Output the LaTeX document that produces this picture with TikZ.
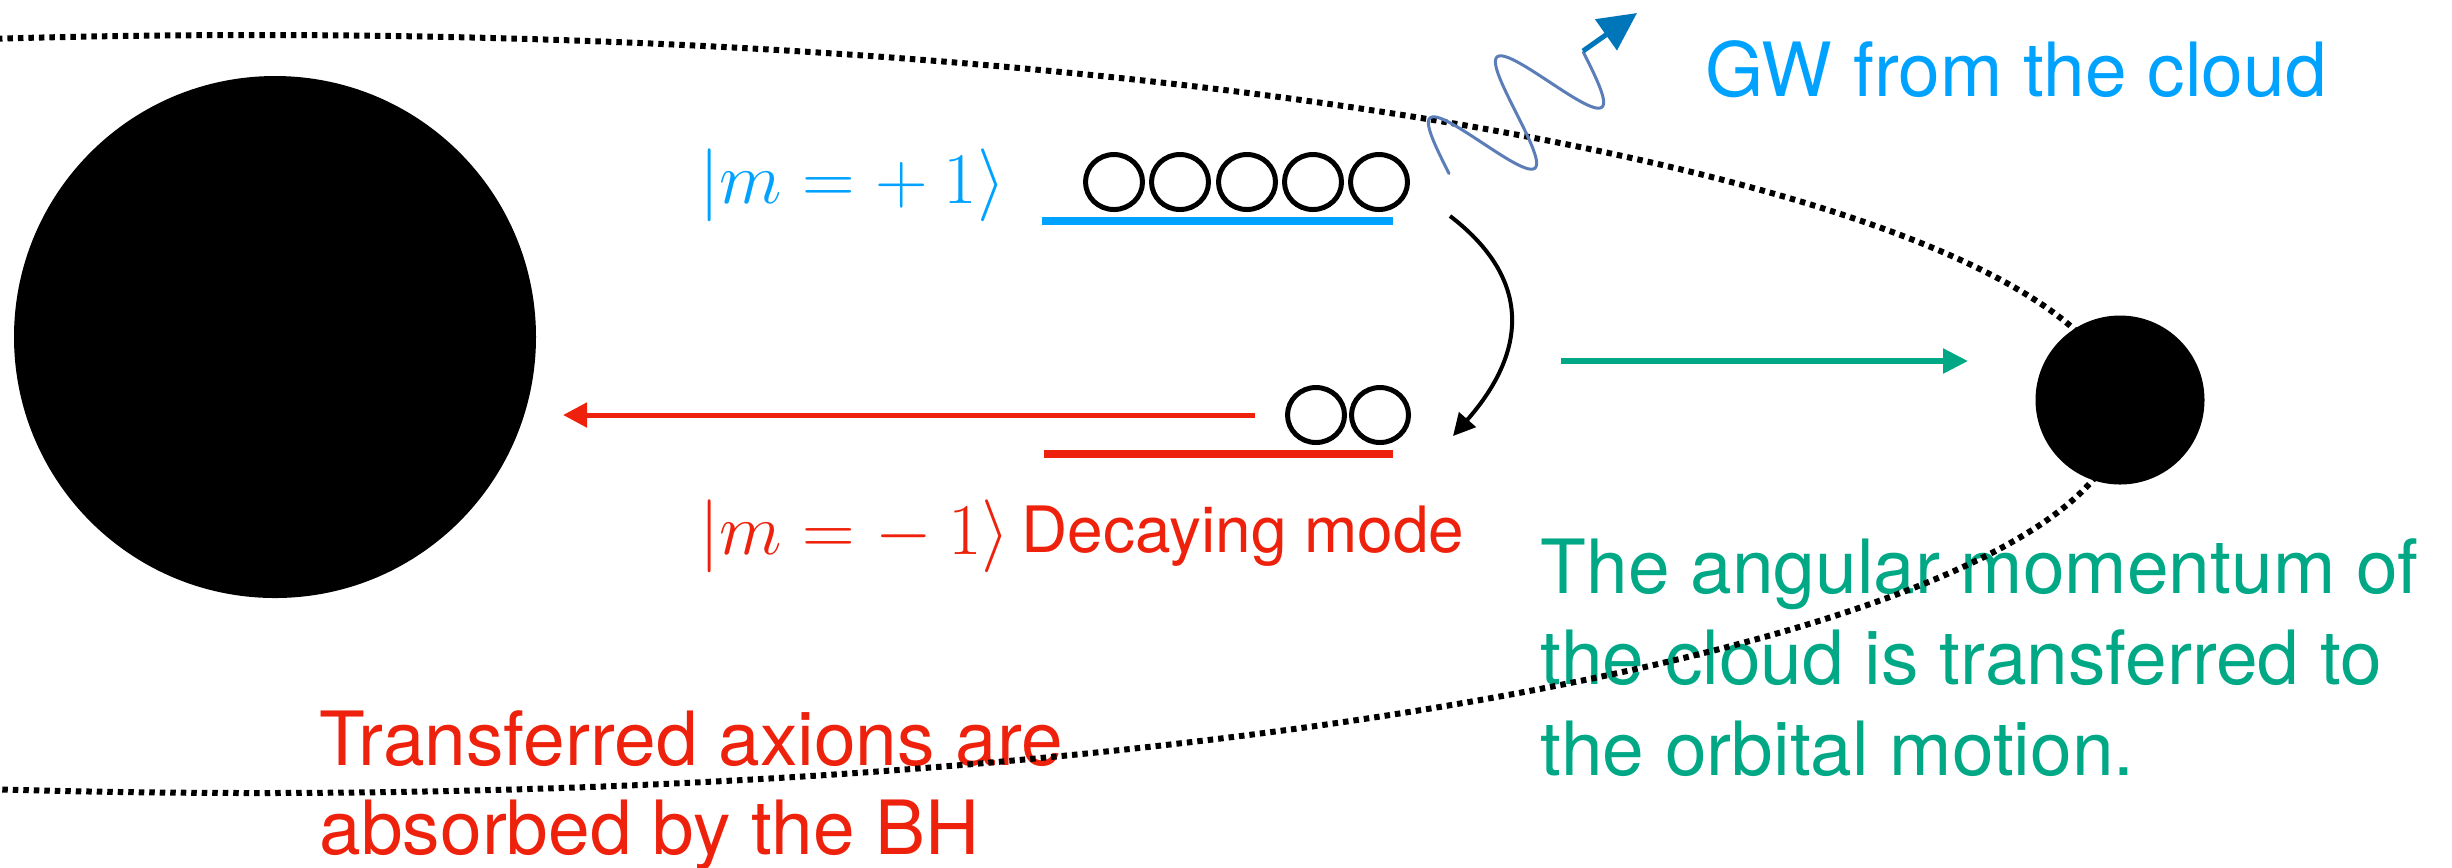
\documentclass[tikz,border=0pt]{standalone}
\usepackage[no-math]{fontspec}
\setmainfont{TeX Gyre Heros}
\usetikzlibrary{arrows.meta,shapes.geometric}
\definecolor{kblue}{HTML}{00A2FF}
\definecolor{kred}{HTML}{EE220C}
\definecolor{kgreen}{HTML}{00A885}
\definecolor{wavecol}{HTML}{5B7DB8}
\definecolor{darkblue}{HTML}{0076BA}
\begin{document}
\begin{tikzpicture}[x=0.1mm,y=-0.1mm,
  bigtxt/.style={inner sep=0pt, anchor=base west, font=\fontsize{21.3}{25.9}\selectfont},
  midtxt/.style={inner sep=0pt, anchor=base west, font=\fontsize{18.2}{21.8}\selectfont},
  mathtxt/.style={inner sep=0pt, anchor=base west, font=\fontsize{21.4}{25}\selectfont},
  orbit/.style={line width=0.6mm, dash pattern=on 0.55mm off 0.5mm},
  quantum/.style={draw=black, line width=0.5mm, ellipse, minimum width=5.7mm, minimum height=5.5mm, inner sep=0pt},
  level/.style={line width=0.8mm},
  bh/.style={circle, fill=black, inner sep=0pt}]
\useasboundingbox (0,0) rectangle (2452,867);

% texts
\node[bigtxt, kblue] (gw) at (1705,96) {GW from the cloud};
\node[mathtxt, kblue] (mplus) at (699,203) {$|m=+\:1\rangle$};
\node[mathtxt, kred] (mminus) at (699,554) {$|m=-\:1\rangle$};
\node[midtxt, kred] (decay) at (1021,552) {Decaying mode};
\node[bigtxt, kgreen] (g1) at (1540,593) {The angular momentum of};
\node[bigtxt, kgreen] (g2) at (1540,684) {the cloud is transferred to};
\node[bigtxt, kgreen] (g3) at (1540,775) {the orbital motion.};
\node[bigtxt, kred] (r1) at (319,765) {Transferred axions are};
\node[bigtxt, kred] (r2) at (319,854) {absorbed by the BH};

% orbit
\begin{scope}
  \clip (0,0) rectangle (2452,867);
  \draw[orbit] (257,414) ellipse [x radius=186.4mm, y radius=37.9mm];
\end{scope}

% black holes
\node[bh, minimum size=52.2mm] (bigbh) at (275,337) {};
\node[bh, minimum size=16.9mm] (smallbh) at (2120,400) {};

% levels
\coordinate (bl1) at (1042,221); \coordinate (bl2) at (1393,221);
\coordinate (rl1) at (1044,454); \coordinate (rl2) at (1393,454);
\draw[level, kblue] (bl1) -- (bl2);
\draw[level, kred] (rl1) -- (rl2);

% quanta
\foreach \i/\xx in {1/1114,2/1180,3/1247,4/1313,5/1379}
  \node[quantum] (u\i) at (\xx,182) {};
\foreach \i/\xx in {1/1316,2/1380}
  \node[quantum] (d\i) at (\xx,415) {};

% transition arrow
\coordinate (ts) at (1450,216);
\coordinate (te) at (1453,436);
\draw[line width=0.4mm, -{Triangle[length=2.2mm,width=2.2mm]}] (ts) .. controls (1540,285) and (1520,360) .. (te);

% absorption arrow
\coordinate (as) at (1255,415);
\coordinate (ae) at (563,415);
\draw[kred, line width=0.5mm, -{Triangle[length=2.4mm,width=2.4mm]}] (as) -- (ae);

% angular momentum arrow
\coordinate (ms) at (1561,361);
\coordinate (me) at (1968,361);
\draw[kgreen, line width=0.55mm, -{Triangle[length=2.5mm,width=2.4mm]}] (ms) -- (me);

% gravitational wave
\draw[wavecol, line width=0.3mm, line cap=round] plot[domain=0:2, samples=200, smooth]
  ({1449+67*\x-35.75*sin(360*\x)},{173.5-61*\x-40.25*sin(360*\x)});
\coordinate (ws) at (1583,51);
\coordinate (we) at (1637,13);
\draw[darkblue, line width=0.5mm, -{Triangle[length=3.8mm,width=3.7mm]}] (ws) -- (we);
\end{tikzpicture}
\end{document}
